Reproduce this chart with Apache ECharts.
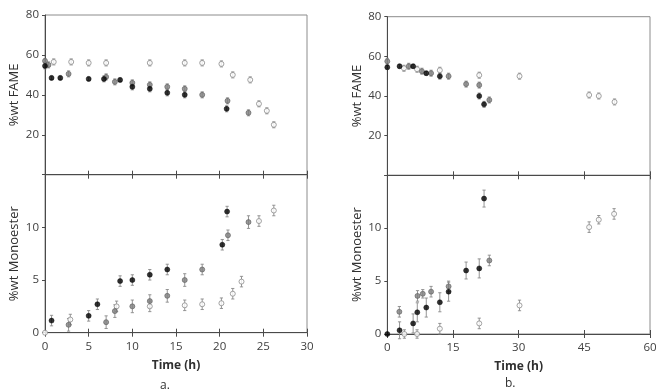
<!DOCTYPE html>
<html>
<head>
<meta charset="utf-8">
<script src="https://cdn.jsdelivr.net/npm/echarts@6/dist/echarts.min.js"></script>
<style>
html,body{margin:0;padding:0;background:#fff;}
#c{width:661px;height:392px;}
</style>
</head>
<body>
<div id="c"></div>
<script>
// ---- Panel a: %wt FAME ----
var aFameBlackX = [0, 0.75, 1.75, 5, 6.75, 8.6, 10, 12, 14, 16, 20.8];
var aFameBlackY = [54.5, 48.5, 48.5, 48, 48, 47.5, 44, 43, 41, 40, 33];
var aFameBlackE = [1.5, 1, 1, 1, 1.5, 1, 1.5, 1.5, 1.5, 1.5, 1.5];
var aFameGrayX = [0, 0.4, 2.7, 7, 8, 10, 12, 14, 16, 18, 20.9, 23.3];
var aFameGrayY = [57, 55, 50.5, 49, 46.5, 46, 45, 44, 43, 40, 37, 31];
var aFameGrayE = [1, 1.5, 1.5, 1.5, 1.5, 1.5, 1.5, 1.5, 1.5, 1.5, 1.5, 1.5];
var aFameWhiteX = [1, 3, 5, 7, 12, 16, 18, 20.2, 21.5, 23.5, 24.5, 25.4, 26.2];
var aFameWhiteY = [56.5, 56.5, 56, 56, 56, 56, 56, 55.5, 50, 47.5, 35.5, 32, 25];
var aFameWhiteE = [1.5, 1.5, 1.5, 1.5, 1.5, 1.5, 1.5, 1.5, 1.5, 1.5, 1.5, 1.5, 1.5];
// ---- Panel a: %wt Monoester ----
var aMonoBlackX = [0.75, 5, 6, 8.6, 10, 12, 14, 20.3, 20.85];
var aMonoBlackY = [1.15, 1.6, 2.7, 4.9, 5.0, 5.5, 6.0, 8.35, 11.5];
var aMonoBlackE = [0.5, 0.5, 0.5, 0.5, 0.5, 0.5, 0.5, 0.5, 0.5];
var aMonoGrayX = [2.7, 7, 8, 10, 12, 14, 16, 18, 20.95, 23.3];
var aMonoGrayY = [0.75, 1.0, 2.05, 2.5, 3.0, 3.5, 5.0, 6.0, 9.25, 10.5];
var aMonoGrayE = [0.6, 0.6, 0.6, 0.6, 0.6, 0.6, 0.6, 0.5, 0.5, 0.6];
var aMonoWhiteX = [0, 2.9, 8.2, 12, 16, 18, 20.2, 21.5, 22.5, 24.5, 26.2];
var aMonoWhiteY = [0, 1.25, 2.5, 2.5, 2.6, 2.7, 2.8, 3.7, 4.85, 10.6, 11.6];
var aMonoWhiteE = [0, 0.5, 0.5, 0.5, 0.5, 0.5, 0.5, 0.5, 0.5, 0.5, 0.5];
// ---- Panel b: %wt FAME ----
var bFameBlackX = [0, 2.8, 5.9, 8.9, 12, 21, 22.1];
var bFameBlackY = [54.5, 55, 55, 51.5, 50, 40, 35.8];
var bFameBlackE = [1, 1, 1, 1, 1.5, 1.5, 1.5];
var bFameGrayX = [0, 4.9, 7.9, 10, 14, 18, 21, 23.3];
var bFameGrayY = [57.5, 55, 52.5, 51.5, 50, 46, 45.5, 38];
var bFameGrayE = [1.5, 1.5, 1.5, 1.5, 1.5, 1.5, 1.5, 1.5];
var bFameWhiteX = [3.8, 6.8, 12, 21, 30.2, 46.1, 48.3, 51.9];
var bFameWhiteY = [54, 53.5, 53, 50.5, 50, 40.5, 40, 37];
var bFameWhiteE = [1.5, 1.5, 1.5, 1.5, 1.5, 1.5, 1.5, 1.5];
// ---- Panel b: %wt Monoester ----
var bMonoBlackX = [0, 2.8, 5.9, 6.85, 8.9, 12, 14, 18, 21, 22.1];
var bMonoBlackY = [0, 0.35, 1.0, 2.05, 2.5, 3.0, 4.0, 6.0, 6.2, 12.8];
var bMonoBlackE = [0, 0.8, 0.9, 0.9, 0.9, 0.9, 0.9, 0.8, 0.9, 0.8];
var bMonoGrayX = [2.75, 6.9, 8.1, 10, 14, 23.3];
var bMonoGrayY = [2.1, 3.6, 3.8, 4.0, 4.5, 6.95];
var bMonoGrayE = [0.5, 0.5, 0.4, 0.5, 0.5, 0.5];
var bMonoWhiteX = [3.9, 6.8, 12, 21, 30.2, 46.1, 48.3, 51.8];
var bMonoWhiteY = [0, 0, 0.5, 1.0, 2.7, 10.1, 10.8, 11.35];
var bMonoWhiteE = [0.4, 0.4, 0.5, 0.5, 0.5, 0.5, 0.4, 0.5];

// axis ticks
var aXTicks = [0, 5, 10, 15, 20, 25, 30];
var bXTicks = [0, 15, 30, 45, 60];
var fameTicks = [20, 40, 60, 80];
var monoTicks = [0, 5, 10];

var FONT = 'Open Sans';
var TXT = '#404040';
var AXC = '#4a4a4a';

var styles = {
  black: {color: '#000000', borderColor: '#000000', borderWidth: 0.6},
  gray:  {color: '#808080', borderColor: '#5e5e5e', borderWidth: 0.8},
  white: {color: '#ffffff', borderColor: '#8c8c8c', borderWidth: 1}
};

function zip(xs, ys, es) {
  return xs.map(function (x, i) { return [x, ys[i], es[i]]; });
}

function errSeries(data, axIdx, yIdx) {
  return {
    type: 'custom', xAxisIndex: axIdx, yAxisIndex: yIdx, z: 2, silent: true,
    data: data,
    renderItem: function (params, api) {
      var x = api.value(0), y = api.value(1), e = api.value(2);
      if (!e) return null;
      var hi = api.coord([x, y + e]);
      var lo = api.coord([x, y - e]);
      var w = 1.6;
      var st = {stroke: '#8a8a8a', lineWidth: 0.9};
      return {type: 'group', children: [
        {type: 'line', shape: {x1: hi[0], y1: hi[1], x2: lo[0], y2: lo[1]}, style: st},
        {type: 'line', shape: {x1: hi[0] - w, y1: hi[1], x2: hi[0] + w, y2: hi[1]}, style: st},
        {type: 'line', shape: {x1: lo[0] - w, y1: lo[1], x2: lo[0] + w, y2: lo[1]}, style: st}
      ]};
    }
  };
}

function ptSeries(data, axIdx, yIdx, kind) {
  return {
    type: 'scatter', xAxisIndex: axIdx, yAxisIndex: yIdx, z: 3, silent: true,
    symbol: 'circle', symbolSize: 5,
    itemStyle: styles[kind],
    data: data.map(function (d) { return [d[0], d[1]]; })
  };
}

var grids = [
  {left: 45, top: 15, width: 262, height: 159.7},
  {left: 45, top: 174.7, width: 262, height: 158},
  {left: 387.3, top: 16.7, width: 262.7, height: 158.6},
  {left: 387.3, top: 175.3, width: 262.7, height: 158.7}
].map(function (g) {
  g.show = true; g.borderColor = '#8c8c8c'; g.borderWidth = 1; g.backgroundColor = 'transparent';
  return g;
});

function xAx(gridIdx, ticks, showLabels, inside, name) {
  var mx = ticks[ticks.length - 1];
  var iv = ticks[1] - ticks[0];
  return {
    type: 'value', gridIndex: gridIdx, min: 0, max: mx, interval: iv,
    position: 'bottom',
    axisLine: {show: inside, onZero: false, lineStyle: {color: AXC, width: 1}},
    axisTick: {show: true, inside: inside, length: 4, lineStyle: {color: AXC, width: 1}},
    axisLabel: {show: showLabels && inside, color: TXT, fontSize: 11.5, fontFamily: FONT, margin: 8},
    splitLine: {show: false},
    name: (showLabels && inside) ? name : '',
    nameLocation: 'middle', nameGap: 27,
    nameTextStyle: {color: '#303030', fontSize: 12, fontWeight: 'bold', fontFamily: FONT}
  };
}

function yAx(gridIdx, ticks, top, name) {
  var iv = ticks[1] - ticks[0];
  return {
    type: 'value', gridIndex: gridIdx, min: 0, max: top, interval: iv,
    axisLine: {show: true, onZero: false, lineStyle: {color: AXC, width: 1}},
    axisTick: {show: true, length: 3, lineStyle: {color: AXC}},
    axisLabel: {color: TXT, fontSize: 11.5, fontFamily: FONT, margin: 6,
      formatter: function (v) { return ticks.indexOf(v) >= 0 ? String(v) : ''; }},
    splitLine: {show: false},
    name: name, nameLocation: 'middle', nameGap: 24,
    nameTextStyle: {color: '#303030', fontSize: 13, fontFamily: FONT}
  };
}

var xAxes = [
  xAx(0, aXTicks, false, true), xAx(0, aXTicks, false, false),
  xAx(1, aXTicks, true, true, 'Time (h)'), xAx(1, aXTicks, false, false),
  xAx(2, bXTicks, false, true), xAx(2, bXTicks, false, false),
  xAx(3, bXTicks, true, true, 'Time (h)'), xAx(3, bXTicks, false, false)
];
var yAxes = [
  yAx(0, fameTicks, 80, '%wt FAME'),
  yAx(1, monoTicks, 15, '%wt Monoester'),
  yAx(2, fameTicks, 80, '%wt FAME'),
  yAx(3, monoTicks, 15, '%wt Monoester')
];

var panels = [
  {ax: 0, y: 0, sets: [['white', aFameWhiteX, aFameWhiteY, aFameWhiteE], ['gray', aFameGrayX, aFameGrayY, aFameGrayE], ['black', aFameBlackX, aFameBlackY, aFameBlackE]]},
  {ax: 2, y: 1, sets: [['white', aMonoWhiteX, aMonoWhiteY, aMonoWhiteE], ['gray', aMonoGrayX, aMonoGrayY, aMonoGrayE], ['black', aMonoBlackX, aMonoBlackY, aMonoBlackE]]},
  {ax: 4, y: 2, sets: [['white', bFameWhiteX, bFameWhiteY, bFameWhiteE], ['gray', bFameGrayX, bFameGrayY, bFameGrayE], ['black', bFameBlackX, bFameBlackY, bFameBlackE]]},
  {ax: 6, y: 3, sets: [['white', bMonoWhiteX, bMonoWhiteY, bMonoWhiteE], ['gray', bMonoGrayX, bMonoGrayY, bMonoGrayE], ['black', bMonoBlackX, bMonoBlackY, bMonoBlackE]]}
];

var series = [];
panels.forEach(function (p) {
  p.sets.forEach(function (s) {
    var d = zip(s[1], s[2], s[3]);
    series.push(errSeries(d, p.ax, p.y));
    series.push(ptSeries(d, p.ax, p.y, s[0]));
  });
});

var chart = echarts.init(document.getElementById('c'), null, {renderer: 'canvas'});
chart.setOption({
  animation: false,
  backgroundColor: '#ffffff',
  grid: grids,
  xAxis: xAxes,
  yAxis: yAxes,
  series: series,
  graphic: [
    {type: 'text', left: 160, top: 380, style: {text: 'a.', fill: '#303030', font: '12px "Open Sans"'}},
    {type: 'text', left: 505, top: 378, style: {text: 'b.', fill: '#303030', font: '12px "Open Sans"'}}
  ]
});
</script>
</body>
</html>
